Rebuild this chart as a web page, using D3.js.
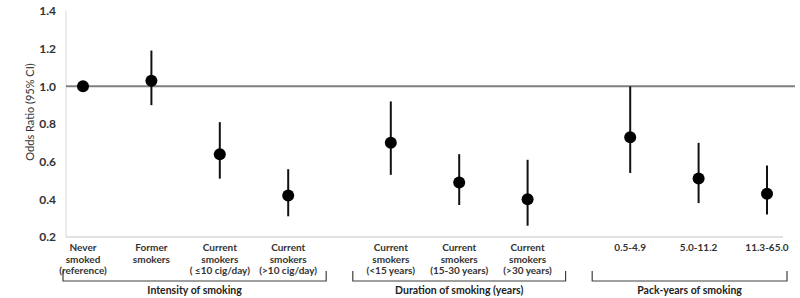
<!DOCTYPE html>
<html lang="en">
<head>
<meta charset="UTF-8">
<title>Odds ratio by smoking status</title>
<script src="https://d3js.org/d3.v7.min.js"></script>
<style>
  body { margin: 0; background: #fff; overflow: hidden; }
  svg { font-family: Lato, "Open Sans", sans-serif; }
  .cat-label { font-size: 10px; font-weight: bold; fill: #333; text-anchor: middle; }
  .group-label { font-size: 10.5px; font-weight: bold; fill: #222; text-anchor: middle; }
  .y-tick { font-size: 12px; font-weight: bold; fill: #333; text-anchor: end; }
  .y-title { font-size: 11px; fill: #333; text-anchor: middle; }
</style>
</head>
<body>
<svg id="chart" width="800" height="298"></svg>
<script>
// category labels (line-broken) and the group each belongs to
const categories = [
  ["Never", "smoked", "(reference)"],
  ["Former", "smokers"],
  ["Current", "smokers", "( \u226410 cig/day)"],
  ["Current", "smokers", "(>10 cig/day)"],
  ["Current", "smokers", "(<15 years)"],
  ["Current", "smokers", "(15-30 years)"],
  ["Current", "smokers", "(>30 years)"],
  ["0.5-4.9"],
  ["5.0-11.2"],
  ["11.3-65.0"]
];
const groupOf = [0, 0, 0, 0, 1, 1, 1, 2, 2, 2];
const groupNames = ["Intensity of smoking", "Duration of smoking (years)", "Pack-years of smoking"];

// odds ratios with 95% CI
const oddsRatio = [1.00, 1.03, 0.64, 0.42, 0.70, 0.49, 0.40, 0.73, 0.51, 0.43];
const ciLow     = [1.00, 0.90, 0.51, 0.31, 0.53, 0.37, 0.26, 0.54, 0.38, 0.32];
const ciHigh    = [1.00, 1.19, 0.81, 0.56, 0.92, 0.64, 0.61, 1.00, 0.70, 0.58];

const yTicks = [0.2, 0.4, 0.6, 0.8, 1.0, 1.2, 1.4];

const svg = d3.select("#chart");

// slot index with a half-slot gap between groups
const slot = categories.map((c, i) => i + groupOf[i] * 0.5);

const x = d3.scaleLinear().domain([0, d3.max(slot)]).range([83, 767]);
const y = d3.scaleLinear().domain([0.2, 1.4]).range([237, 11]);

const data = categories.map((c, i) => ({
  label: c, group: groupOf[i], pos: slot[i],
  or: oddsRatio[i], lo: ciLow[i], hi: ciHigh[i]
}));

// axes lines
svg.append("line")
  .attr("x1", 66).attr("x2", 66)
  .attr("y1", y(1.4)).attr("y2", y(0.2))
  .attr("stroke", "#d9d9d9").attr("stroke-width", 1);
svg.append("line")
  .attr("x1", 66).attr("x2", 783)
  .attr("y1", y(0.2)).attr("y2", y(0.2))
  .attr("stroke", "#d9d9d9").attr("stroke-width", 1.5);

// y ticks
svg.selectAll(".y-tick")
  .data(yTicks)
  .join("text")
  .attr("class", "y-tick")
  .attr("x", 56)
  .attr("y", d => y(d))
  .attr("dy", "0.35em")
  .text(d => d.toFixed(1));

svg.append("text")
  .attr("class", "y-title")
  .attr("transform", `translate(30,${112}) rotate(-90)`)
  .attr("dy", "0.35em")
  .text("Odds Ratio (95% CI)");

// reference line at OR = 1
svg.append("line")
  .attr("x1", 66).attr("x2", 795)
  .attr("y1", y(1)).attr("y2", y(1))
  .attr("stroke", "#7f7f7f").attr("stroke-width", 2);

// error bars
svg.selectAll(".ci")
  .data(data.filter(d => d.hi > d.lo))
  .join("line")
  .attr("class", "ci")
  .attr("x1", d => x(d.pos)).attr("x2", d => x(d.pos))
  .attr("y1", d => y(d.hi)).attr("y2", d => y(d.lo))
  .attr("stroke", "#111").attr("stroke-width", 2);

// points
svg.selectAll(".pt")
  .data(data)
  .join("circle")
  .attr("class", "pt")
  .attr("cx", d => x(d.pos))
  .attr("cy", d => y(d.or))
  .attr("r", 6)
  .attr("fill", "#000");

// category labels
const cat = svg.selectAll(".cat-label")
  .data(data)
  .join("text")
  .attr("class", "cat-label")
  .attr("x", d => x(d.pos))
  .attr("y", 251);
cat.selectAll("tspan")
  .data(d => d.label.map(l => ({ l, x: x(d.pos) })))
  .join("tspan")
  .attr("x", d => d.x)
  .attr("dy", (d, i) => i === 0 ? 0 : 11.5)
  .text(d => d.l);

// group brackets
const groups = groupNames.map((name, g) => {
  const members = data.filter(d => d.group === g);
  const left = Math.max(63, x(members[0].pos) - 38);
  const right = Math.min(787, x(members[members.length - 1].pos) + 38);
  return { name, left, right };
});

svg.selectAll(".bracket")
  .data(groups)
  .join("path")
  .attr("class", "bracket")
  .attr("d", d => `M${d.left},271V281H${d.right}V271`)
  .attr("fill", "none")
  .attr("stroke", "#404040")
  .attr("stroke-width", 1.2);

svg.selectAll(".group-label")
  .data(groups)
  .join("text")
  .attr("class", "group-label")
  .attr("x", d => (d.left + d.right) / 2)
  .attr("y", 294)
  .text(d => d.name);
</script>
</body>
</html>
